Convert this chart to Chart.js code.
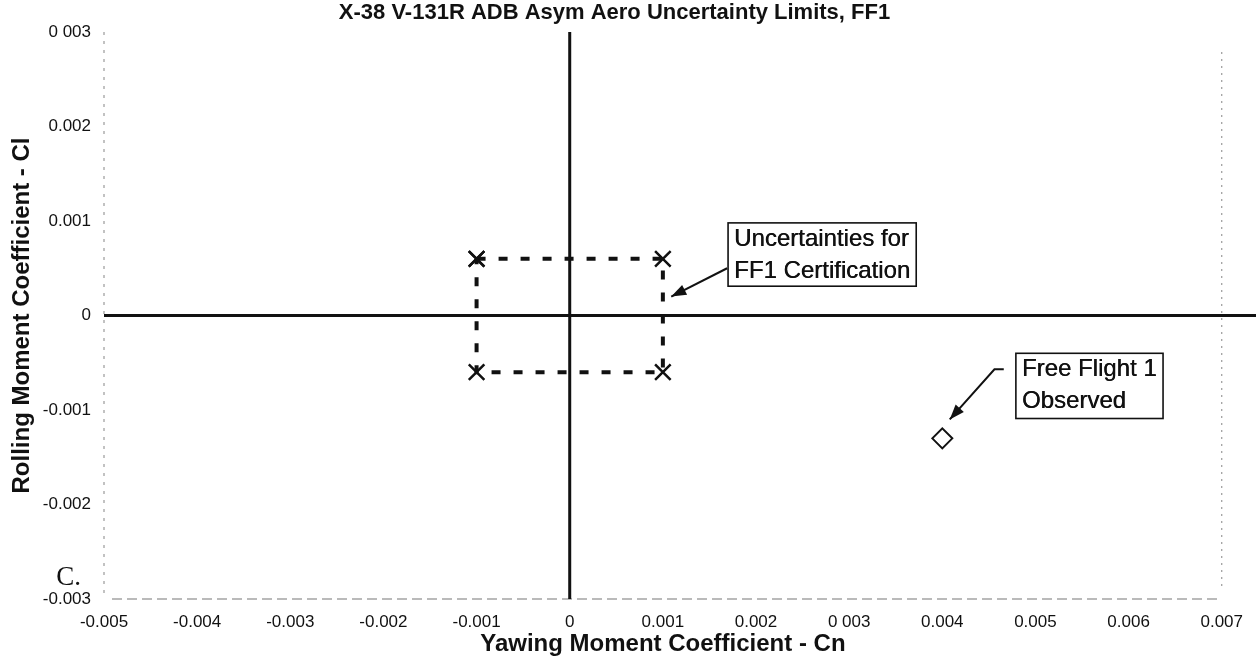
<!DOCTYPE html>
<html>
<head>
<meta charset="utf-8">
<script src="https://cdn.jsdelivr.net/npm/chart.js@4.4.1/dist/chart.umd.min.js"></script>
<style>
  html, body { margin: 0; padding: 0; background: #fff; }
  #wrap { width: 1256px; height: 661px; position: relative; }
</style>
</head>
<body>
<div id="wrap"><canvas id="c" width="1256" height="661"></canvas></div>
<script>
// ---- data ----
const chartTitle = 'X-38 V-131R ADB Asym Aero Uncertainty Limits, FF1';
const xAxisTitle = 'Yawing Moment Coefficient - Cn';
const yAxisTitle = 'Rolling Moment Coefficient - Cl';

const xTickValues = [-0.005, -0.004, -0.003, -0.002, -0.001, 0, 0.001, 0.002, 0.003, 0.004, 0.005, 0.006, 0.007];
const xTickLabels = ['-0.005', '-0.004', '-0.003', '-0.002', '-0.001', '0', '0.001', '0.002', '0 003', '0.004', '0.005', '0.006', '0.007'];
const yTickValues = [-0.003, -0.002, -0.001, 0, 0.001, 0.002, 0.003];
const yTickLabels = ['-0.003', '-0.002', '-0.001', '0', '0.001', '0.002', '0 003'];

// uncertainty limits box (corners, closed)
const boxCn = [-0.001, 0.001, 0.001, -0.001, -0.001];
const boxCl = [0.0006, 0.0006, -0.0006, -0.0006, 0.0006];

// free flight 1 observed
const observedCn = [0.004];
const observedCl = [-0.0013];

const noteUncertainty = ['Uncertainties for', 'FF1 Certification'];
const noteObserved = ['Free Flight 1', 'Observed'];
const cornerLabel = 'C.';

// ---- annotation anchors (data units) ----
const annotations = [
  { lines: noteUncertainty, box: [0.0017, 0.00098, 0.00372, 0.00031],
    arrow: [[0.00169, 0.0005], [0.00109, 0.0002]] },
  { lines: noteObserved, box: [0.00479, -0.0004, 0.00637, -0.00109],
    arrow: [[0.00466, -0.00057], [0.00456, -0.00057], [0.00408, -0.0011]] }
];

const boxPoints = boxCn.map((x, i) => ({ x: x, y: boxCl[i] }));
const obsPoints = observedCn.map((x, i) => ({ x: x, y: observedCl[i] }));

const decorPlugin = {
  id: 'decor',
  beforeDatasetsDraw(chart) {
    const ctx = chart.ctx, a = chart.chartArea;
    const xs = chart.scales.x, ys = chart.scales.y;
    ctx.save();
    // faint frame: left dotted, bottom dashed, right dotted
    ctx.strokeStyle = '#9a9a9a';
    ctx.lineWidth = 1.2;
    ctx.setLineDash([3, 6]);
    ctx.beginPath();
    ctx.moveTo(a.left, a.top);
    ctx.lineTo(a.left, a.bottom);
    ctx.stroke();
    ctx.setLineDash([2, 5]);
    ctx.beginPath();
    ctx.moveTo(a.right, a.top + 20);
    ctx.lineTo(a.right, a.bottom - 8);
    ctx.stroke();
    ctx.strokeStyle = '#777';
    ctx.setLineDash([10, 5]);
    ctx.beginPath();
    ctx.moveTo(a.left + 8, a.bottom);
    ctx.lineTo(a.right, a.bottom);
    ctx.stroke();
    ctx.setLineDash([]);
    // zero lines
    const y0 = ys.getPixelForValue(0);
    const x0 = xs.getPixelForValue(0);
    ctx.strokeStyle = '#111';
    ctx.lineWidth = 3;
    ctx.beginPath();
    ctx.moveTo(a.left, y0);
    ctx.lineTo(chart.width, y0);
    ctx.moveTo(x0, a.top);
    ctx.lineTo(x0, a.bottom);
    ctx.stroke();
    ctx.restore();
  },
  afterDraw(chart) {
    const ctx = chart.ctx;
    const xs = chart.scales.x, ys = chart.scales.y;
    ctx.save();
    annotations.forEach(an => {
      const l = xs.getPixelForValue(an.box[0]), t = ys.getPixelForValue(an.box[1]);
      const r = xs.getPixelForValue(an.box[2]), b = ys.getPixelForValue(an.box[3]);
      ctx.fillStyle = '#fff';
      ctx.fillRect(l, t, r - l, b - t);
      ctx.strokeStyle = '#111';
      ctx.lineWidth = 1.6;
      ctx.strokeRect(l, t, r - l, b - t);
      ctx.fillStyle = '#111';
      ctx.font = '24px "Liberation Sans", Arial, sans-serif';
      ctx.textBaseline = 'middle';
      ctx.textAlign = 'left';
      an.lines.forEach((s, i) => {
        ctx.fillText(s, l + 6, t + 16 + i * 32);
        ctx.fillText(s, l + 6.4, t + 16 + i * 32);
      });
      // arrow
      const pts = an.arrow.map(p => [xs.getPixelForValue(p[0]), ys.getPixelForValue(p[1])]);
      ctx.lineWidth = 2;
      ctx.beginPath();
      ctx.moveTo(pts[0][0], pts[0][1]);
      for (let i = 1; i < pts.length; i++) ctx.lineTo(pts[i][0], pts[i][1]);
      ctx.stroke();
      const tip = pts[pts.length - 1], prev = pts[pts.length - 2];
      const ang = Math.atan2(tip[1] - prev[1], tip[0] - prev[0]);
      const len = 15, half = 5.5;
      ctx.beginPath();
      ctx.moveTo(tip[0], tip[1]);
      ctx.lineTo(tip[0] - len * Math.cos(ang) + half * Math.sin(ang), tip[1] - len * Math.sin(ang) - half * Math.cos(ang));
      ctx.lineTo(tip[0] - len * Math.cos(ang) - half * Math.sin(ang), tip[1] - len * Math.sin(ang) + half * Math.cos(ang));
      ctx.closePath();
      ctx.fill();
    });
    // corner label
    ctx.font = '27px "Liberation Serif", "Times New Roman", serif';
    ctx.textAlign = 'right';
    ctx.textBaseline = 'middle';
    ctx.fillStyle = '#111';
    ctx.fillText(cornerLabel, chart.chartArea.left - 23, chart.chartArea.bottom - 21);
    ctx.restore();
  }
};

new Chart(document.getElementById('c'), {
  type: 'scatter',
  data: {
    datasets: [
      {
        label: 'Uncertainty limits',
        data: boxPoints,
        showLine: true,
        borderColor: '#111',
        borderWidth: 4,
        borderDash: [9, 13],
        pointStyle: 'crossRot',
        pointRadius: 11,
        pointBorderWidth: 2.5,
        pointBorderColor: '#111',
        pointBackgroundColor: '#111',
        tension: 0
      },
      {
        label: 'Free Flight 1 Observed',
        data: obsPoints,
        pointStyle: 'rectRot',
        pointRadius: 10,
        pointBorderWidth: 2,
        pointBorderColor: '#111',
        pointBackgroundColor: '#fff'
      }
    ]
  },
  options: {
    responsive: false,
    animation: false,
    devicePixelRatio: 1,
    layout: { padding: { left: 0, right: 27, top: 0, bottom: 0 } },
    plugins: {
      legend: { display: false },
      tooltip: { enabled: false },
      title: {
        display: true,
        text: chartTitle,
        color: '#111',
        font: { family: '"Liberation Sans", Arial, sans-serif', size: 22, weight: 'bold', lineHeight: 1.2 },
        padding: { top: 0, bottom: 5.6 }
      }
    },
    scales: {
      x: {
        type: 'linear',
        min: -0.005,
        max: 0.007,
        afterBuildTicks: s => { s.ticks = xTickValues.map(v => ({ value: v })); },
        afterFit: s => { s.height = 62; },
        ticks: {
          color: '#111',
          padding: 13,
          maxRotation: 0,
          autoSkip: false,
          font: { family: '"Liberation Sans", Arial, sans-serif', size: 17 },
          callback: (v, i) => xTickLabels[i]
        },
        grid: { display: false, drawTicks: false },
        border: { display: false },
        title: {
          display: true,
          text: xAxisTitle,
          color: '#111',
          font: { family: '"Liberation Sans", Arial, sans-serif', size: 24, weight: 'bold', lineHeight: 1.2 },
          padding: { top: 0, bottom: 2 }
        }
      },
      y: {
        type: 'linear',
        min: -0.003,
        max: 0.003,
        afterBuildTicks: s => { s.ticks = yTickValues.map(v => ({ value: v })); },
        afterFit: s => { s.width = 104; },
        ticks: {
          color: '#111',
          padding: 13,
          autoSkip: false,
          font: { family: '"Liberation Sans", Arial, sans-serif', size: 17 },
          callback: (v, i) => yTickLabels[i]
        },
        grid: { display: false, drawTicks: false },
        border: { display: false },
        title: {
          display: true,
          text: yAxisTitle,
          color: '#111',
          font: { family: '"Liberation Sans", Arial, sans-serif', size: 24, weight: 'bold', lineHeight: 1.2 },
          padding: { top: 8, bottom: 0 }
        }
      }
    }
  },
  plugins: [decorPlugin]
});
</script>
</body>
</html>
